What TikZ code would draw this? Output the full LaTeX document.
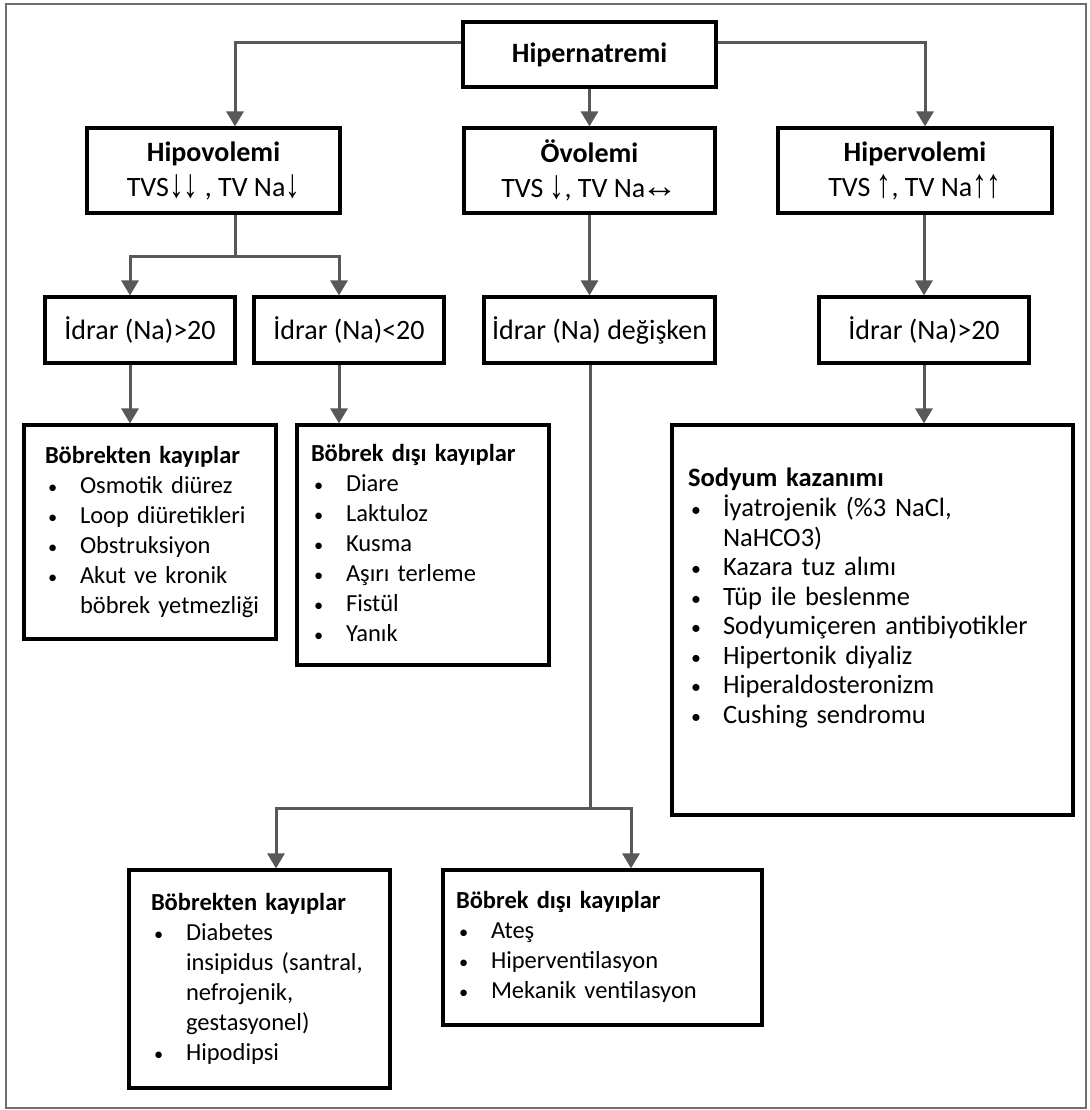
\documentclass[tikz,border=0pt]{standalone}
\usepackage{fontspec}
\setmainfont{Carlito}
\newfontfamily\arrowfont{Liberation Sans}
\usetikzlibrary{arrows.meta, positioning, shadows}

\definecolor{conngray}{RGB}{88,88,88}
\definecolor{framegray}{RGB}{110,110,110}

\newcommand{\arrdn}{\raisebox{-1pt}{\scalebox{1.05}[1.45]{\arrowfont ↓}}}
\newcommand{\arrup}{\raisebox{-1pt}{\scalebox{1.05}[1.45]{\arrowfont ↑}}}
\newcommand{\arrlr}{\hspace{-4pt}\scalebox{1.3}[1.2]{\arrowfont ↔}}
\newcommand{\bul}{\makebox[35pt][l]{\hspace{3pt}\scalebox{0.75}{\textbullet}}}
\newcommand{\ind}{\hspace*{35pt}}
\newcommand{\lst}[1]{\begin{tabular}{@{}l@{}}#1\end{tabular}}

\tikzset{%
   % framed boxes of the chart
   box/.style={
      draw=black,
      line width=3.2pt,
      fill=white,
      drop shadow={shadow xshift=1.4pt, shadow yshift=-1.4pt, fill=black, opacity=1},
      inner sep=0pt,
      align=center,
      font=\fontsize{28}{35}\selectfont
   },
   % boxes holding a bullet list
   listbox/.style={
      box,
      align=left,
      font=\fontsize{24.5}{30}\selectfont
   },
   conn/.style={
      draw=conngray,
      line width=3pt,
      -{Triangle[width=17pt,length=15pt]}
   },
   trunk/.style={
      draw=conngray,
      line width=3pt
   },
}

\begin{document}
\begin{tikzpicture}[x=1pt, y=-1pt]
    \useasboundingbox (0,0) rectangle (1089,1110);
    \draw[framegray, line width=1.5pt] (6,4) rectangle (1086,1108);

    \node[box, minimum width=253pt, minimum height=65pt] (root) at (589.5,54.5) {\textbf{Hipernatremi}};

    \node[box, minimum width=253pt, minimum height=85pt] (hipo) at (213.5,170.5)
        {\textbf{Hipovolemi}\\TVS\arrdn\arrdn\ , TV Na\arrdn};
    \node[box, minimum width=251pt, minimum height=85pt] (euvo) at (589.5,170.5)
        {\textbf{Övolemi}\\TVS \arrdn, TV Na\arrlr};
    \node[box, minimum width=274pt, minimum height=85pt] (hiper) at (915,170.5)
        {\textbf{Hipervolemi}\\TVS \arrup, TV Na\arrup\arrup};

    \node[box, minimum width=190pt, minimum height=66pt] (idrA) at (140,330) {İdrar (Na)>20};
    \node[box, minimum width=190pt, minimum height=66pt] (idrB) at (349,330) {İdrar (Na)<20};
    \node[box, minimum width=231pt, minimum height=66pt] (idrC) at (599.5,330) {İdrar (Na) değişken};
    \node[box, minimum width=210pt, minimum height=66pt] (idrD) at (924,330) {İdrar (Na)>20};

    \node[listbox, inner xsep=21pt, text width=210pt, minimum height=214pt] (kayA) at (150,532)
        {\lst{\textbf{Böbrekten kayıplar}\\
              \bul Osmotik diürez\\
              \bul Loop diüretikleri\\
              \bul Obstruksiyon\\
              \bul Akut ve kronik\\
              \ind böbrek yetmezliği}};
    \node[listbox, inner xsep=14pt, text width=224pt, minimum height=240pt] (kayB) at (423,545)
        {\lst{\textbf{Böbrek dışı kayıplar}\\
              \bul Diare\\
              \bul Laktuloz\\
              \bul Kusma\\
              \bul Aşırı terleme\\
              \bul Fistül\\
              \bul Yanık}};
    \node[listbox, inner xsep=16pt, text width=369pt, minimum height=390pt,
          font=\fontsize{26.5}{29.5}\selectfont] (sod) at (872.5,620)
        {\lst{\textbf{Sodyum kazanımı}\\
              \bul İyatrojenik (\%3 NaCl,\\
              \ind NaHCO3)\\
              \bul Kazara tuz alımı\\
              \bul Tüp ile beslenme\\
              \bul Sodyumiçeren antibiyotikler\\
              \bul Hipertonik diyaliz\\
              \bul Hiperaldosteronizm\\
              \bul Cushing sendromu\\[42pt]}};

    \node[listbox, inner xsep=22pt, text width=217pt, minimum height=218pt] (botA) at (259.5,979)
        {\lst{\textbf{Böbrekten kayıplar}\\
              \bul Diabetes\\
              \ind insipidus (santral,\\
              \ind nefrojenik,\\
              \ind gestasyonel)\\
              \bul Hipodipsi}};
    \node[listbox, inner xsep=13pt, text width=293pt, minimum height=155pt] (botB) at (602.5,947.5)
        {\lst{\textbf{Böbrek dışı kayıplar}\\
              \bul Ateş\\
              \bul Hiperventilasyon\\
              \bul Mekanik ventilasyon}};

    % branch points
    \coordinate (jl) at (235,43);
    \coordinate (jr) at (925,43);
    \coordinate (js) at (235,256);
    \coordinate (ja) at (130,256);
    \coordinate (jb) at (339,256);
    \coordinate (jc) at (590,808);
    \coordinate (jd) at (276,808);
    \coordinate (je) at (631,808);

    \draw[conn] (root.west |- jl) -- (jl) -- (hipo.north -| jl);
    \draw[conn] (root) -- (euvo);
    \draw[conn] (root.east |- jr) -- (jr) -- (hiper.north -| jr);

    \draw[trunk] (hipo.south -| js) -- (js);
    \draw[conn] (js) -- (ja) -- (idrA.north -| ja);
    \draw[conn] (js) -- (jb) -- (idrB.north -| jb);
    \draw[conn] (euvo.south) -- (euvo.south |- idrC.north);
    \draw[conn] (hiper.south -| idrD) -- (idrD);

    \draw[conn] (idrA.south -| ja) -- (kayA.north -| ja);
    \draw[conn] (idrB.south -| jb) -- (kayB.north -| jb);
    \draw[conn] (idrD) -- (sod.north -| idrD);

    \draw[trunk] (idrC.south -| jc) -- (jc);
    \draw[conn] (jc) -- (jd) -- (botA.north -| jd);
    \draw[conn] (jc) -- (je) -- (botB.north -| je);
\end{tikzpicture}
\end{document}
